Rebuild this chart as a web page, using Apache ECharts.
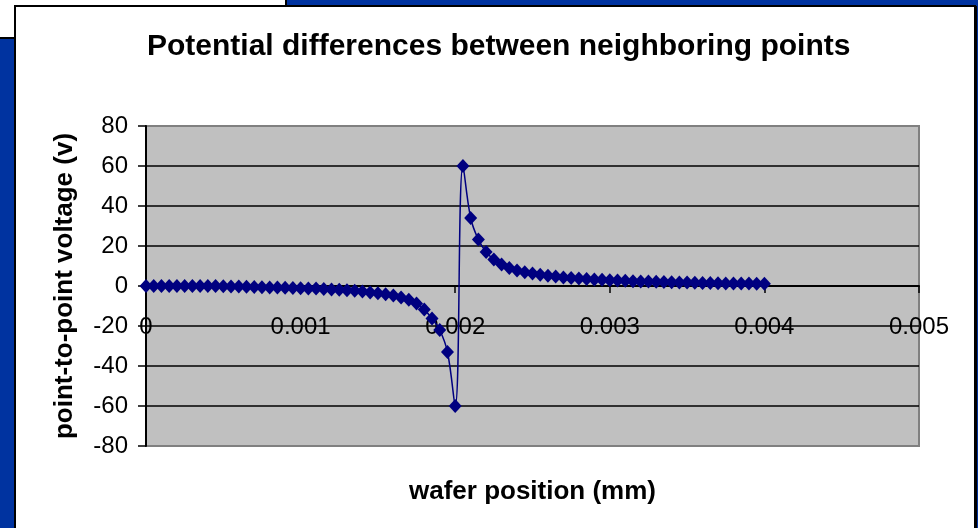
<!DOCTYPE html>
<html>
<head>
<meta charset="utf-8">
<script src="https://cdn.jsdelivr.net/npm/echarts@6/dist/echarts.min.js"></script>
<style>
html,body{margin:0;padding:0;background:#0033A0;}
#chart{width:978px;height:528px;}
</style>
</head>
<body>
<div id="chart"></div>
<script>
var titleText = 'Potential differences between neighboring points';
var xAxisName = 'wafer position (mm)';
var yAxisName = 'point-to-point voltage (v)';

var positions = [0,0.00005,0.0001,0.00015,0.0002,0.00025,0.0003,0.00035,0.0004,0.00045,
  0.0005,0.00055,0.0006,0.00065,0.0007,0.00075,0.0008,0.00085,0.0009,0.00095,
  0.001,0.00105,0.0011,0.00115,0.0012,0.00125,0.0013,0.00135,0.0014,0.00145,
  0.0015,0.00155,0.0016,0.00165,0.0017,0.00175,0.0018,0.00185,0.0019,0.00195,
  0.002,0.00205,0.0021,0.00215,0.0022,0.00225,0.0023,0.00235,0.0024,0.00245,
  0.0025,0.00255,0.0026,0.00265,0.0027,0.00275,0.0028,0.00285,0.0029,0.00295,
  0.003,0.00305,0.0031,0.00315,0.0032,0.00325,0.0033,0.00335,0.0034,0.00345,
  0.0035,0.00355,0.0036,0.00365,0.0037,0.00375,0.0038,0.00385,0.0039,0.00395,
  0.004];

var voltages = [0,0,0,0,0,0,0,0,0,0,
  -0.1,-0.2,-0.3,-0.4,-0.5,-0.6,-0.7,-0.8,-0.9,-1.0,
  -1.1,-1.2,-1.3,-1.5,-1.7,-1.9,-2.1,-2.4,-2.8,-3.2,
  -3.6,-4.1,-4.8,-5.7,-6.9,-8.8,-11.8,-16.3,-22,-33,
  -60,60,34,23.2,17,13.3,10.8,9,7.8,6.9,
  6.2,5.6,5.1,4.7,4.3,4,3.7,3.5,3.3,3.1,
  2.9,2.7,2.6,2.4,2.3,2.2,2.1,2,1.9,1.8,
  1.7,1.6,1.5,1.5,1.4,1.3,1.3,1.2,1.2,1.1,
  1.1];

var yTicks = [-80,-60,-40,-20,0,20,40,60,80];
var xTicks = [0,0.001,0.002,0.003,0.004,0.005];

var seriesData = positions.map(function (x, i) { return [x, voltages[i]]; });

var FONT = '"Liberation Sans", Arial, Helvetica, sans-serif';

var splitColors = yTicks.map(function (v, i) {
  return (i === 0 || i === yTicks.length - 1) ? '#808080' : '#000000';
});

var GRID_TOP = 126, GRID_H = 320;
// x axis sits on the y = 0 line: offset it up from the grid bottom
var xAxisOffset = -GRID_H * (0 - yTicks[0]) / (yTicks[yTicks.length - 1] - yTicks[0]);

var chart = echarts.init(document.getElementById('chart'), null, {renderer: 'canvas'});
chart.setOption({
  animation: false,
  backgroundColor: '#0033A0',
  textStyle: {fontFamily: FONT},
  graphic: {
    elements: [
      {type: 'rect', z: -10, shape: {x: -2, y: -2, width: 288, height: 40},
       style: {fill: '#ffffff', stroke: '#000000', lineWidth: 2}},
      {type: 'rect', z: -9, shape: {x: 15, y: 6, width: 960, height: 560},
       style: {fill: '#ffffff', stroke: '#000000', lineWidth: 2}},
      {type: 'rect', z: -8, shape: {x: 974, y: 6, width: 3, height: 560},
       style: {fill: '#000000'}}
    ]
  },
  title: {
    text: titleText,
    left: 147,
    top: 32,
    padding: 0,
    textStyle: {fontFamily: FONT, fontSize: 30, fontWeight: 'bold', color: '#000'}
  },
  grid: {
    left: 146, top: GRID_TOP, width: 773, height: GRID_H,
    outerBoundsMode: 'none',
    containLabel: false,
    show: true,
    backgroundColor: '#C0C0C0',
    borderColor: '#808080',
    borderWidth: 2
  },
  xAxis: {
    type: 'value',
    position: 'bottom',
    offset: xAxisOffset,
    min: xTicks[0],
    max: xTicks[xTicks.length - 1],
    interval: 0.001,
    name: xAxisName,
    nameLocation: 'middle',
    nameGap: 193,
    nameTextStyle: {fontFamily: FONT, fontSize: 26, fontWeight: 'bold', color: '#000'},
    axisLine: {show: true, onZero: false, lineStyle: {color: '#000', width: 2}},
    axisTick: {show: true, inside: false, length: 7, lineStyle: {color: '#000', width: 1.5}},
    axisLabel: {
      fontFamily: FONT, fontSize: 24, color: '#000', margin: 29,
      formatter: function (v) { return String(Number(v.toFixed(3))); }
    },
    splitLine: {show: false}
  },
  yAxis: {
    type: 'value',
    min: yTicks[0],
    max: yTicks[yTicks.length - 1],
    interval: 20,
    name: yAxisName,
    nameLocation: 'middle',
    nameRotate: 90,
    nameGap: 68,
    nameTextStyle: {fontFamily: FONT, fontSize: 26, fontWeight: 'bold', color: '#000'},
    axisLine: {show: true, onZero: false, lineStyle: {color: '#000', width: 2}},
    axisTick: {show: true, inside: false, length: 8, lineStyle: {color: '#000', width: 1.5}},
    axisLabel: {fontFamily: FONT, fontSize: 24, color: '#000', margin: 18},
    splitLine: {show: true, lineStyle: {color: splitColors, width: 1.5}}
  },
  series: [{
    type: 'line',
    data: seriesData,
    smooth: 0.4,
    showSymbol: true,
    showAllSymbol: true,
    symbol: 'diamond',
    symbolSize: [13, 14],
    itemStyle: {color: '#000080'},
    lineStyle: {color: '#000080', width: 1.5},
    clip: false,
    z: 5
  }]
});
</script>
</body>
</html>
